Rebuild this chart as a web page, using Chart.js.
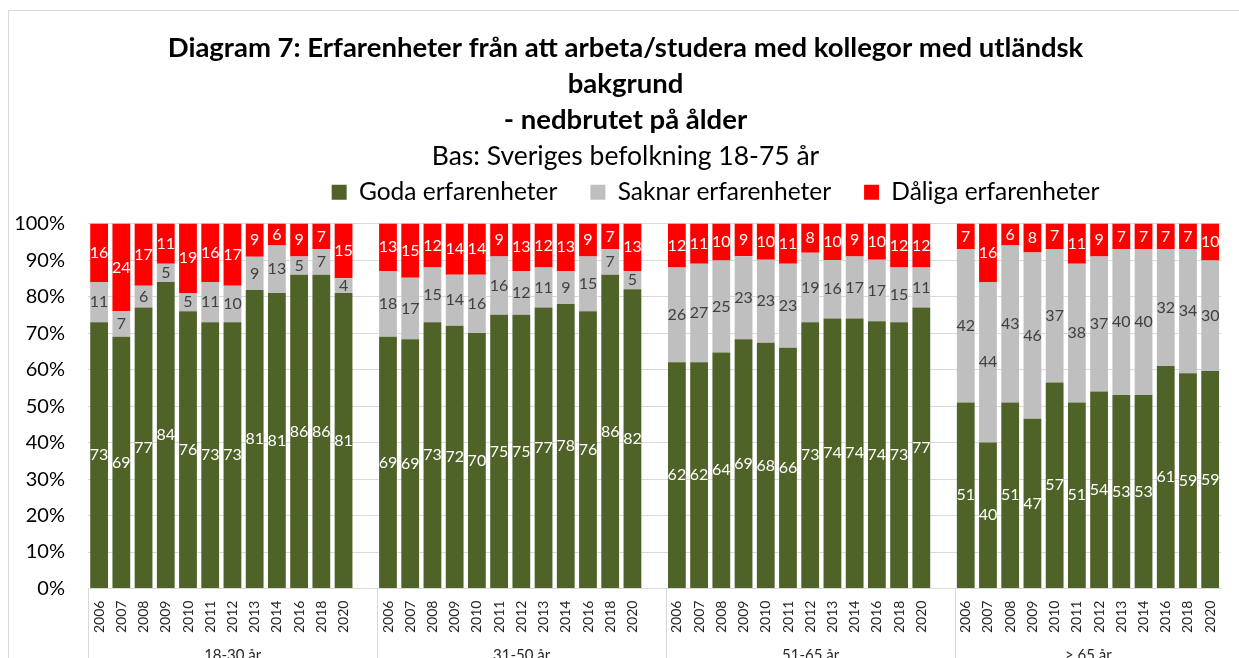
<!DOCTYPE html>
<html lang="sv">
<head>
<meta charset="UTF-8">
<title>Diagram 7</title>
<script src="https://cdn.jsdelivr.net/npm/chart.js@4.4.1/dist/chart.umd.min.js"></script>
<style>
  html, body { margin: 0; padding: 0; background: #fff; }
  #wrap { width: 1239px; height: 658px; }
</style>
</head>
<body>
<div id="wrap"><canvas id="chart"></canvas></div>
<script>
// data
const years = ['2006','2007','2008','2009','2010','2011','2012','2013','2014','2016','2018','2020'];
const groups = ['18-30 år', '31-50 år', '51-65 år', '> 65 år'];
const goda = [
  [73, 69, 77, 84, 76, 73, 73, 81, 81, 86, 86, 81],
  [69, 69, 73, 72, 70, 75, 75, 77, 78, 76, 86, 82],
  [62, 62, 64, 69, 68, 66, 73, 74, 74, 74, 73, 77],
  [51, 40, 51, 47, 57, 51, 54, 53, 53, 61, 59, 59]
];
const saknar = [
  [11, 7, 6, 5, 5, 11, 10, 9, 13, 5, 7, 4],
  [18, 17, 15, 14, 16, 16, 12, 11, 9, 15, 7, 5],
  [26, 27, 25, 23, 23, 23, 19, 16, 17, 17, 15, 11],
  [42, 44, 43, 46, 37, 38, 37, 40, 40, 32, 34, 30]
];
const daliga = [
  [16, 24, 17, 11, 19, 16, 17, 9, 6, 9, 7, 15],
  [13, 15, 12, 14, 14, 9, 13, 12, 13, 9, 7, 13],
  [12, 11, 10, 9, 10, 11, 8, 10, 9, 10, 12, 12],
  [7, 16, 6, 8, 7, 11, 9, 7, 7, 7, 7, 10]
];

const FONT = "Lato, 'Open Sans', sans-serif";
Chart.defaults.font.family = FONT;

// flatten groups, with an empty category after each group except the last
const labels = [];
const rawG = [], rawS = [], rawD = [];
groups.forEach((g, gi) => {
  years.forEach((y, yi) => {
    labels.push(y);
    rawG.push(goda[gi][yi]);
    rawS.push(saknar[gi][yi]);
    rawD.push(daliga[gi][yi]);
  });
  if (gi < groups.length - 1) {
    labels.push('');
    rawG.push(null); rawS.push(null); rawD.push(null);
  }
});
const raws = [rawG, rawS, rawD];

// 100% stacked: scale each bar to its total
function pct(arr, i) {
  const tot = rawG[i] + rawS[i] + rawD[i];
  return arr[i] == null ? null : arr[i] / tot * 100;
}

const frame = {
  id: 'frame',
  beforeDraw(chart) {
    const ctx = chart.ctx;
    ctx.save();
    ctx.fillStyle = '#fff';
    ctx.fillRect(0, 0, chart.width, chart.height);
    ctx.strokeStyle = '#D9D9D9';
    ctx.lineWidth = 1;
    ctx.strokeRect(8.5, 10.5, chart.width + 20, chart.height + 20);
    ctx.restore();
  }
};

// the legend sits right of centre in the original, with some room below it
const legendShift = {
  id: 'legendShift',
  beforeInit(chart) {
    const lg = chart.legend;
    const fit = lg.fit;
    lg.fit = function () { fit.call(this); this.height += 9; };
  },
  afterLayout(chart) {
    chart.legend.left += 90;
    chart.legend.right += 90;
  }
};

const valueLabels = {
  id: 'valueLabels',
  afterDatasetsDraw(chart) {
    const ctx = chart.ctx;
    const colors = ['#ffffff', '#404040', '#ffffff'];
    ctx.save();
    ctx.font = '16px ' + FONT;
    ctx.textAlign = 'center';
    ctx.textBaseline = 'middle';
    chart.data.datasets.forEach((ds, di) => {
      const meta = chart.getDatasetMeta(di);
      ctx.fillStyle = colors[di];
      meta.data.forEach((bar, i) => {
        const v = raws[di][i];
        if (v == null) return;
        const p = bar.getProps(['x', 'y', 'base'], true);
        ctx.fillText(String(v), p.x, (p.y + p.base) / 2);
      });
    });
    ctx.restore();
  }
};

const groupAxis = {
  id: 'groupAxis',
  afterDraw(chart) {
    const ctx = chart.ctx;
    const xs = chart.scales.x;
    const w = (xs.right - xs.left) / labels.length;
    ctx.save();
    ctx.strokeStyle = '#D9D9D9';
    ctx.lineWidth = 1;
    ctx.fillStyle = '#262626';
    ctx.font = '15px ' + FONT;
    ctx.textAlign = 'center';
    ctx.textBaseline = 'middle';
    groups.forEach((g, gi) => {
      const start = gi * (years.length + 1);
      const end = gi < groups.length - 1 ? start + years.length + 1 : labels.length;
      const left = Math.round(xs.left + start * w) + 0.5;
      const right = xs.left + end * w;
      ctx.beginPath();
      ctx.moveTo(left, xs.top);
      ctx.lineTo(left, chart.height);
      ctx.stroke();
      ctx.fillText(g, (left + right) / 2, xs.top + 67);
    });
    ctx.restore();
  }
};

new Chart(document.getElementById('chart'), {
  type: 'bar',
  data: {
    labels: labels,
    datasets: [
      { label: 'Goda erfarenheter', data: labels.map((l, i) => pct(rawG, i)), backgroundColor: '#4F6228' },
      { label: 'Saknar erfarenheter', data: labels.map((l, i) => pct(rawS, i)), backgroundColor: '#BFBFBF' },
      { label: 'Dåliga erfarenheter', data: labels.map((l, i) => pct(rawD, i)), backgroundColor: '#FF0000' }
    ]
  },
  options: {
    responsive: true,
    maintainAspectRatio: false,
    animation: false,
    layout: { padding: { top: 12, left: 12, right: 0, bottom: 13 } },
    datasets: { bar: { categoryPercentage: 1.0, barPercentage: 0.8 } },
    plugins: {
      title: {
        display: true,
        text: ['Diagram 7: Erfarenheter från att arbeta/studera med kollegor med utländsk', 'bakgrund', '- nedbrutet på ålder'],
        font: { size: 27.5, weight: 'bold', lineHeight: 1.31 },
        color: '#000',
        padding: { top: 18, bottom: 0 }
      },
      subtitle: {
        display: true,
        text: 'Bas: Sveriges befolkning 18-75 år',
        font: { size: 26.5, lineHeight: 1.36 },
        color: '#000',
        padding: { top: 0, bottom: -27 }
      },
      legend: {
        position: 'top',
        labels: { boxWidth: 15, boxHeight: 15, font: { size: 24.5 }, color: '#000', padding: 33 }
      },
      tooltip: { enabled: false }
    },
    scales: {
      x: {
        stacked: true,
        offset: true,
        grid: { display: true, drawOnChartArea: false, drawTicks: false },
        border: { display: true, color: '#D9D9D9' },
        ticks: { autoSkip: false, maxRotation: 90, minRotation: 90, font: { size: 14 }, color: '#262626', padding: 12 }
      },
      y: {
        stacked: true,
        min: 0,
        max: 100,
        afterFit(scale) { scale.width = 76; },
        grid: { color: '#D9D9D9', drawTicks: false },
        border: { display: false },
        ticks: { stepSize: 10, callback: v => v + '%', font: { size: 20 }, color: '#000', padding: 23 }
      }
    }
  },
  plugins: [frame, legendShift, valueLabels, groupAxis]
});
</script>
</body>
</html>
